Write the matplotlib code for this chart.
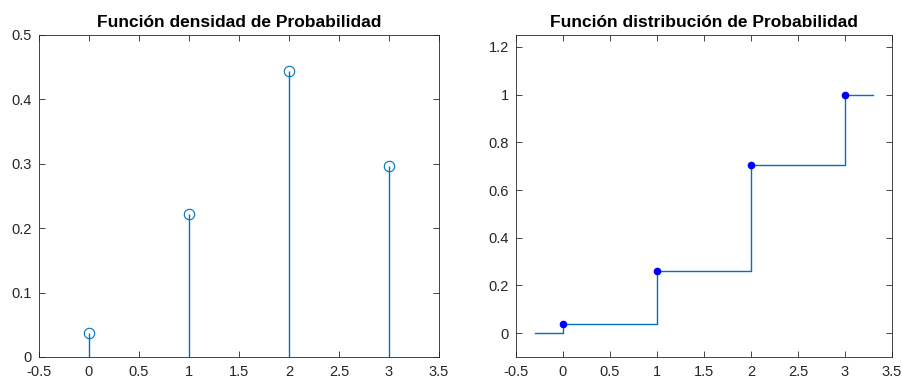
import numpy as np
import matplotlib.pyplot as plt

# datos
x = [0, 1, 2, 3]
densidad = [0.037, 0.222, 0.444, 0.296]
distribucion = [0.037, 0.259, 0.704, 1.0]
x_escalon = [-0.3, 0, 1, 2, 3, 3.3]
y_escalon = [0, 0.037, 0.259, 0.704, 1.0, 1.0]

plt.rcParams['font.family'] = ['Liberation Sans', 'DejaVu Sans']
azul = '#0072BD'
gris = '#262626'

fig = plt.figure(figsize=(9.03, 3.8), dpi=100)
ax1 = fig.add_axes([39/903, 1-357/380, 400/903, 322/380])
ax2 = fig.add_axes([516/903, 1-357/380, 376/903, 322/380])

# densidad
ml, sl, bl = ax1.stem(x, densidad, basefmt=' ')
plt.setp(sl, color=azul, linewidth=1.0)
plt.setp(ml, color=azul, marker='o', markerfacecolor='none', markersize=7.5, markeredgewidth=0.8)
ax1.set_xlim(-0.5, 3.5)
ax1.set_ylim(0, 0.5)
ax1.set_xticks(np.arange(-0.5, 3.51, 0.5))
ax1.set_xticklabels(['-0.5', '0', '0.5', '1', '1.5', '2', '2.5', '3', '3.5'])
ax1.set_yticks(np.arange(0, 0.51, 0.1))
ax1.set_yticklabels(['0', '0.1', '0.2', '0.3', '0.4', '0.5'])
ax1.set_title('Función densidad de Probabilidad', fontsize=12.5, fontweight='bold', pad=6)

# distribucion
ax2.step(x_escalon, y_escalon, where='post', color=azul, linewidth=1.0)
ax2.plot(x, distribucion, 'o', color='#0000FF', markersize=4.5)
ax2.set_xlim(-0.5, 3.5)
ax2.set_ylim(-0.1, 1.25)
ax2.set_xticks(np.arange(-0.5, 3.51, 0.5))
ax2.set_xticklabels(['-0.5', '0', '0.5', '1', '1.5', '2', '2.5', '3', '3.5'])
ax2.set_yticks(np.arange(0, 1.21, 0.2))
ax2.set_yticklabels(['0', '0.2', '0.4', '0.6', '0.8', '1', '1.2'])
ax2.set_title('Función distribución de Probabilidad', fontsize=12.5, fontweight='bold', pad=6)

for ax in (ax1, ax2):
    ax.tick_params(direction='in', top=True, right=True, length=4, width=0.6,
                   colors=gris, labelsize=10.5)
    ax.tick_params(axis='x', pad=5.5)
    ax.tick_params(axis='y', pad=5)
    for s in ax.spines.values():
        s.set_color(gris)
        s.set_linewidth(0.6)

fig.savefig('out.png', dpi=100)
